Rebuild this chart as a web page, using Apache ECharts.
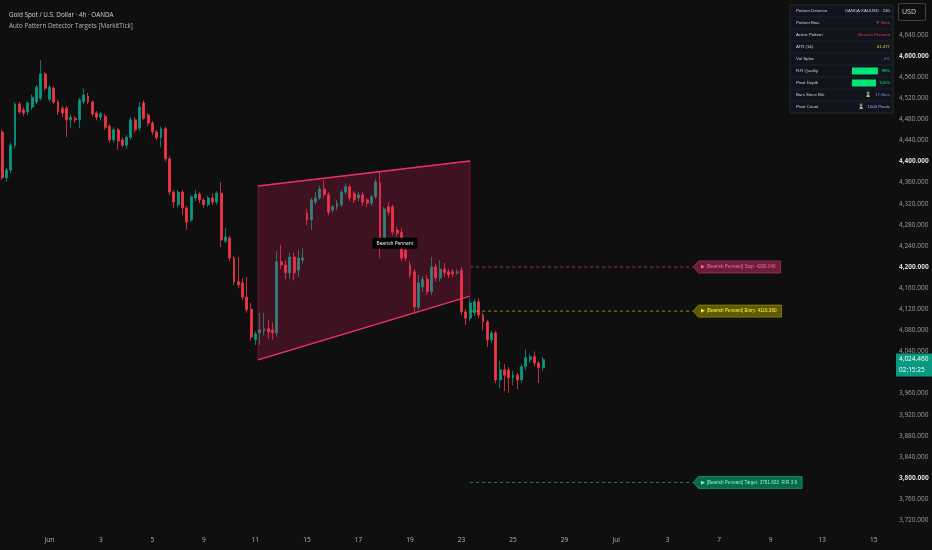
<!DOCTYPE html>
<html><head><meta charset="utf-8">
<script src="https://cdn.jsdelivr.net/npm/echarts@6/dist/echarts.min.js"></script>
<style>html,body{margin:0;padding:0;background:#0f0f0f;}#c{width:932px;height:550px;}</style>
</head><body><div id="c"></div>
<script>
// ---- DATA ----
// candles: [open, close, low, high]
const ohlc = [
[4456,4369,4365,4460],[4369,4384,4362,4388],[4384,4431,4378,4436],[4431,4509,4425,4512],[4509,4494,4490,4513],
[4498,4492,4486,4503],[4494,4511,4488,4514],[4503,4522,4498,4527],[4513,4541,4509,4545],[4520,4566,4516,4592],
[4566,4539,4535,4570],[4518,4541,4513,4545],[4539,4513,4509,4543],[4513,4494,4488,4517],[4501,4492,4484,4505],
[4501,4479,4446,4505],[4479,4484,4463,4490],[4482,4479,4473,4486],[4479,4517,4463,4520],[4513,4526,4509,4539],
[4524,4513,4509,4530],[4513,4490,4486,4516],[4492,4484,4478,4496],[4484,4490,4478,4494],[4486,4465,4460,4490],
[4467,4441,4436,4471],[4441,4460,4436,4465],[4460,4439,4422,4463],[4441,4431,4427,4446],[4431,4446,4424,4450],
[4446,4479,4441,4484],[4479,4460,4455,4484],[4463,4503,4458,4513],[4511,4482,4478,4516],[4488,4473,4467,4492],
[4473,4456,4450,4477],[4456,4445,4440,4460],[4445,4462,4427,4466],[4462,4405,4400,4466],[4405,4342,4336,4410],
[4342,4323,4312,4346],[4318,4342,4313,4346],[4342,4312,4299,4346],[4312,4285,4270,4316],[4289,4333,4285,4337],
[4331,4338,4325,4346],[4338,4327,4321,4342],[4327,4318,4312,4331],[4318,4331,4314,4335],[4331,4323,4318,4340],
[4323,4340,4318,4344],[4340,4251,4238,4361],[4249,4257,4245,4274],[4255,4217,4211,4259],[4217,4172,4166,4221],
[4172,4166,4160,4219],[4170,4143,4138,4179],[4143,4119,4113,4181],[4120,4067,4060,4132],[4062,4073,4052,4078],
[4075,4081,4052,4113],[4079,4083,4070,4113],[4083,4077,4064,4100],[4081,4075,4062,4095],[4075,4210,4068,4230],
[4210,4204,4196,4242],[4204,4189,4176,4213],[4189,4219,4178,4227],[4219,4189,4175,4227],[4194,4217,4181,4232],
[4213,4217,4206,4236],[4302,4289,4280,4310],[4289,4327,4270,4331],[4323,4331,4318,4342],[4331,4348,4327,4354],
[4348,4337,4331,4365],[4337,4304,4298,4342],[4308,4314,4302,4318],[4314,4321,4308,4327],[4318,4342,4314,4346],
[4342,4352,4337,4358],[4352,4331,4325,4356],[4340,4327,4321,4344],[4331,4337,4325,4342],[4337,4323,4316,4342],
[4327,4321,4314,4331],[4321,4333,4316,4337],[4333,4361,4329,4367],[4359,4255,4217,4380],[4255,4310,4249,4314],
[4314,4304,4298,4323],[4314,4266,4260,4318],[4270,4264,4257,4276],[4266,4217,4211,4274],[4232,4217,4211,4238],
[4204,4185,4179,4211],[4191,4124,4115,4196],[4124,4170,4119,4185],[4162,4177,4152,4183],[4177,4153,4147,4185],
[4153,4200,4147,4219],[4200,4179,4172,4206],[4179,4196,4173,4213],[4196,4189,4181,4208],[4191,4185,4179,4196],
[4191,4187,4181,4196],[4189,4191,4185,4196],[4194,4115,4109,4200],[4115,4103,4090,4120],[4103,4132,4098,4141],
[4113,4134,4107,4139],[4134,4109,4103,4141],[4109,4096,4080,4113],[4096,4062,4048,4100],[4062,4075,4056,4079],
[4075,3986,3980,4079],[3986,4005,3970,4022],[4005,3995,3965,4016],[4005,3990,3961,4010],[3990,3995,3976,4003],
[3995,3986,3968,3999],[3986,4011,3980,4016],[4011,4028,4005,4043],[4024,4030,4018,4035],[4030,4018,4012,4040],
[4018,4009,3980,4022],[4009,4024.46,4003,4030]
];
const slotCount = 208;
const tickIdx = [11,23,35,47,59,71,83,95,107,119,131,143,155,167,179,191,203];
const tickLabels = ['Jun','3','5','9','11','15','17','19','23','25','29','Jul','3','7','9','13','15'];
const yTicks = [3720,3760,3800,3840,3880,3920,3960,4000,4040,4080,4120,4160,4200,4240,4280,4320,4360,4400,4440,4480,4520,4560,4600,4640];
const pennantX = [59.6,109,109,59.6];
const pennantY = [4353.6,4401,4145,4023.7];
const patternName = 'Bearish Pennant';
const patternLabelPos = [91.5, 4245];
const levelPrices = [4200.049, 4116.360, 3791.603];
const levelTexts = ['▶ [Bearish Pennant] Stop: 4200.049','▶ [Bearish Pennant] Entry: 4116.360','▶ [Bearish Pennant] Target: 3791.603  R:R 3.9'];
const levelStart = 109, levelEnd = 161;
const countdown = '02:15:25';
const tableLabels = ['Pattern Detector','Pattern Bias','Active Pattern','ATR (14)','Vol Spike','R:R Quality','Pivot Depth','Bars Since Brk','Pivot Count'];
const tableValues = ['OANDA:XAUUSD · 240','▼ Bear','Bearish Pennant','41.477','0%','98%','100%','17 Bars','1000 Pivots'];
const tableIcons = ['','','','','','','','⌛','⌛'];
const tableBars = [0,0,0,0,0,98,100,0,0];
const tableColors = ['#d1d4dc','#f23645','#f23645','#e6d84a','#787b86','#00e676','#00e676','#6f8fe8','#9fb8ff'];

// ---- STYLE ----
const UP='#089981', DN='#f23645';
const levelLine = ['#a8365d','#a89c10','#1a8f66'];
const tagBg = ['#6b1d3c','#5f5a00','#0c6a4b'];
const tagStroke = ['#a3325c','#8f8700','#179a6d'];
const tagText = ['#ff6a9a','#fff04a','#7dffc8'];
const mctx = document.createElement('canvas').getContext('2d');
function tw(t,f){mctx.font=f;return mctx.measureText(t).width;}
function fc(api,x,y){const i=Math.floor(x);const p=api.coord([i,y]);const bw=api.size([1,0])[0];return [p[0]+(x-i)*bw,p[1]];}

const chart = echarts.init(document.getElementById('c'));
const lastClose = ohlc[ohlc.length-1][1];
const fmt = v => v.toLocaleString('en-US',{minimumFractionDigits:3,maximumFractionDigits:3});

// table graphic
const T={x:790,y:5,w:103,rh:12};
const tfont='4.3px "Liberation Sans"';
const tch=[{type:'rect',shape:{x:T.x,y:T.y,width:T.w,height:T.rh*tableLabels.length},style:{fill:'#11141c',stroke:'#2a2e39',lineWidth:0.8}}];
tableLabels.forEach((lab,i)=>{
  const cy=T.y+T.rh*i+T.rh/2;
  if(i>0) tch.push({type:'line',shape:{x1:T.x,y1:T.y+T.rh*i,x2:T.x+T.w,y2:T.y+T.rh*i},style:{stroke:'#262a35',lineWidth:0.6}});
  tch.push({type:'text',style:{text:lab,x:T.x+6,y:cy,fill:'#d1d4dc',font:tfont,align:'left',verticalAlign:'middle',textAlign:'left',textVerticalAlign:'middle'}});
  const rx=T.x+T.w-3;
  tch.push({type:'text',style:{text:tableValues[i],x:rx,y:cy,fill:tableColors[i],font:tfont,align:'right',verticalAlign:'middle',textAlign:'right',textVerticalAlign:'middle'}});
  const vw=tw(tableValues[i],tfont);
  if(tableIcons[i]) tch.push({type:'text',style:{text:tableIcons[i],x:rx-vw-4,y:cy,fill:'#e0e0e0',font:'5px "DejaVu Sans"',align:'right',verticalAlign:'middle',textAlign:'right',textVerticalAlign:'middle'}});
  if(tableBars[i]){const right=rx-vw-3;const left=T.x+62;tch.push({type:'rect',shape:{x:left,y:cy-3.5,width:(right-left)*tableBars[i]/100,height:7},style:{fill:'#00e676'}});}
});

const baseGraphic = [
  {type:'group',children:tch},
  {type:'rect',shape:{x:898.5,y:3.5,width:27,height:17,r:2},style:{fill:'transparent',stroke:'#434651',lineWidth:1}},
  {type:'text',style:{text:'USD',x:902,y:12,fill:'#d1d4dc',font:'7px "Open Sans"',align:'left',verticalAlign:'middle',textAlign:'left',textVerticalAlign:'middle'}}
];

const option = {
  backgroundColor:'#0f0f0f',
  animation:false,
  title:{left:4,top:6,itemGap:3,text:'Gold Spot / U.S. Dollar · 4h · OANDA',
    textStyle:{color:'#d1d4dc',fontSize:6.3,fontWeight:'normal',fontFamily:'Open Sans',lineHeight:8},
    subtext:'Auto Pattern Detector Targets [MarkitTick]',
    subtextStyle:{color:'#b2b5be',fontSize:6.3,fontFamily:'Open Sans',lineHeight:8}},
  grid:{left:0,right:39,top:0,bottom:18},
  xAxis:{type:'category',data:Array.from({length:slotCount},(_, i)=>i),boundaryGap:true,
    axisLine:{show:false},axisTick:{show:false},splitLine:{show:false},
    axisLabel:{interval:(idx)=>tickIdx.indexOf(idx)>=0,formatter:(v,idx)=>{const k=tickIdx.indexOf(Number(v));return k>=0?tickLabels[k]:'';},
      color:'#b2b5be',fontSize:6.5,fontFamily:'Open Sans',margin:5}},
  yAxis:{type:'value',position:'right',min:3697.6,max:4706.2,scale:true,
    axisLine:{show:false},axisTick:{show:false},splitLine:{show:false},
    axisLabel:{customValues:yTicks,margin:6,color:'#9a9da6',fontSize:6.5,fontFamily:'Open Sans',
      formatter:v=>{const s=fmt(v);return v%200===0?'{b|'+s+'}':s;},
      rich:{b:{fontWeight:'bold',color:'#d9dbe0',fontSize:6.5,fontFamily:'Open Sans'}}}},
  series:[
    {type:'candlestick',data:ohlc,barWidth:2.4,z:2,
      itemStyle:{color:UP,color0:DN,borderColor:UP,borderColor0:DN,borderWidth:0.8}},
    {type:'custom',z:3,data:[[pennantX[0],pennantY[0]]],
      renderItem:(params,api)=>{
        const p=pennantX.map((x,i)=>fc(api,x,pennantY[i]));
        return {type:'group',children:[
          {type:'polygon',shape:{points:p},style:{fill:'rgba(233,30,99,0.22)',stroke:'rgba(233,30,99,0.45)',lineWidth:0.8}},
          {type:'polyline',shape:{points:[p[0],p[1]]},style:{stroke:'#ec2f6b',lineWidth:1.3,fill:null}},
          {type:'polyline',shape:{points:[p[3],p[2]]},style:{stroke:'#ec2f6b',lineWidth:1.3,fill:null}}
        ]};
      }},
    ...levelPrices.map((p,i)=>({type:'line',z:3,symbol:'none',silent:true,data:[[levelStart,p],[levelEnd,p]],
      lineStyle:{color:levelLine[i],width:0.9,type:[3,3]}})),
    {type:'custom',z:6,data:levelPrices.map((p,i)=>[levelEnd,p,i]),
      renderItem:(params,api)=>{
        const i=api.value(2);const pt=api.coord([api.value(0),api.value(1)]);
        const font='4.6px "Liberation Sans"';
        const w=tw(levelTexts[i],font)+13;const h=12;const x=pt[0],y=pt[1];
        return {type:'group',children:[
          {type:'polygon',shape:{points:[[x,y],[x+5,y-h/2],[x+w,y-h/2],[x+w,y+h/2],[x+5,y+h/2]]},style:{fill:tagBg[i],stroke:tagStroke[i],lineWidth:0.8}},
          {type:'text',style:{text:levelTexts[i],x:x+8,y:y,fill:tagText[i],font:font,align:'left',verticalAlign:'middle',textAlign:'left',textVerticalAlign:'middle'}}
        ]};
      }},
    {type:'custom',z:7,data:[patternLabelPos],
      renderItem:(params,api)=>{
        const c=fc(api,patternLabelPos[0],patternLabelPos[1]);
        const font='4.8px "Open Sans"';const w=tw(patternName,font)+8;const h=11;
        return {type:'group',children:[
          {type:'rect',shape:{x:c[0]-w/2,y:c[1]-h/2,width:w,height:h,r:1},style:{fill:'#000000'}},
          {type:'text',style:{text:patternName,x:c[0],y:c[1],fill:'#ffffff',font:font,align:'center',verticalAlign:'middle',textAlign:'center',textVerticalAlign:'middle'}}
        ]};
      }}
  ],
  graphic:baseGraphic
};
chart.setOption(option);

// last-price tag on the price scale, placed through the y axis scale
const py = chart.convertToPixel({yAxisIndex:0}, lastClose);
chart.setOption({graphic: baseGraphic.concat([{type:'group',z:100,children:[
  {type:'rect',z:100,shape:{x:896,y:py-6,width:36,height:23},style:{fill:UP}},
  {type:'text',z:101,style:{text:fmt(lastClose),x:899,y:py,fill:'#ffffff',font:'6.5px "Open Sans"',align:'left',verticalAlign:'middle',textAlign:'left',textVerticalAlign:'middle'}},
  {type:'text',z:101,style:{text:countdown,x:899,y:py+11,fill:'#ffffff',font:'6.5px "Open Sans"',align:'left',verticalAlign:'middle',textAlign:'left',textVerticalAlign:'middle'}}
]}])});
</script></body></html>
